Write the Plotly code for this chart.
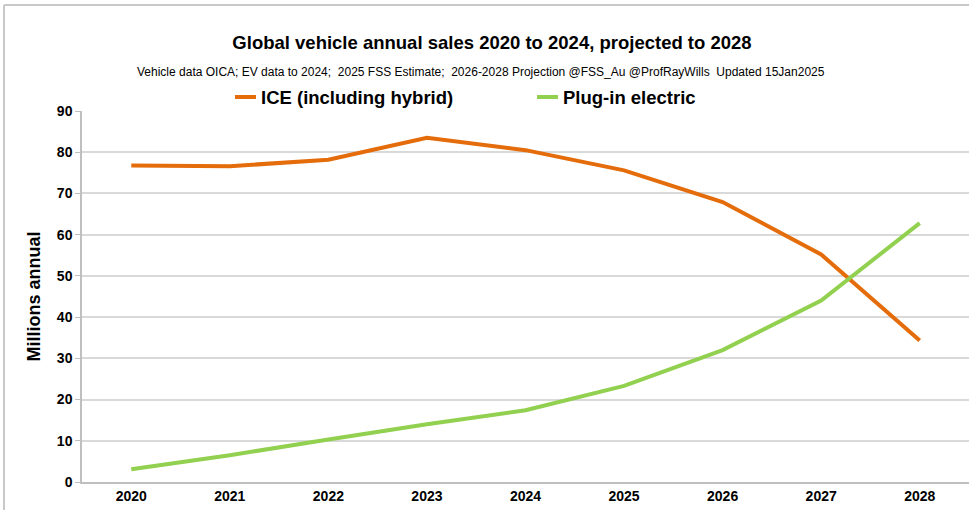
import plotly.graph_objects as go

years = ["2020", "2021", "2022", "2023", "2024", "2025", "2026", "2027", "2028"]
ice_sales = [76.8, 76.6, 78.2, 83.5, 80.5, 75.6, 67.9, 55.2, 34.3]
ev_sales = [3.1, 6.5, 10.3, 14.0, 17.4, 23.3, 32.0, 44.0, 62.8]
y_ticks = [0, 10, 20, 30, 40, 50, 60, 70, 80, 90]
series_names = ["ICE (including hybrid)", "Plug-in electric"]

FONT = "Liberation Sans, Arial, sans-serif"
ORANGE = "#E46C0A"
GREEN = "#92D050"
GRID = "#D9D9D9"
AXIS = "#BFBFBF"

# plot area in pixels
W, H = 969, 510
L, R, T, B = 82, 0, 111, 28
PW, PH = W - L - R, H - T - B


def px(x):
    return (x - L) / PW


def py(y):
    return (H - B - y) / PH


fig = go.Figure()
fig.add_trace(go.Scatter(x=years, y=ice_sales, mode="lines", name=series_names[0],
                         line=dict(color=ORANGE, width=4)))
fig.add_trace(go.Scatter(x=years, y=ev_sales, mode="lines", name=series_names[1],
                         line=dict(color=GREEN, width=4)))

fig.update_layout(
    width=W, height=H,
    margin=dict(l=L, r=R, t=T, b=B),
    paper_bgcolor="white", plot_bgcolor="white",
    font=dict(family=FONT, color="#000000"),
    title=dict(text="<b>Global vehicle annual sales 2020 to 2024, projected to 2028</b>",
               x=492 / W, xanchor="center", y=1 - 43 / H, yanchor="middle",
               font=dict(size=18.5, family=FONT)),
    showlegend=False,
)

fig.update_xaxes(
    type="category", range=[-0.5, 8.5],
    showgrid=False, showline=True, linecolor=AXIS, linewidth=1.5,
    ticks="", tickfont=dict(size=14, family=FONT, weight="bold"),
)
fig.update_yaxes(
    range=[0, 90], tickvals=y_ticks,
    showgrid=True, gridcolor=GRID, gridwidth=1.5,
    showline=True, linecolor=AXIS, linewidth=1.5,
    ticks="outside", ticklen=5, tickcolor=AXIS,
    tickfont=dict(size=14, family=FONT, weight="bold"),
    title=dict(text="<b>Millions annual</b>", font=dict(size=18, family=FONT), standoff=12),
    zeroline=False,
)

fig.add_annotation(
    text="Vehicle data OICA; EV data to 2024;  2025 FSS Estimate;  2026-2028 Projection @FSS_Au @ProfRayWills  Updated 15Jan2025",
    xref="paper", yref="paper", x=px(481), y=py(72), yanchor="middle",
    xanchor="center", showarrow=False, font=dict(size=12, family=FONT),
)

# Legend row: short line swatch followed by the series name
legend_items = [(series_names[0], ORANGE, 235), (series_names[1], GREEN, 537)]
for name, color, x0 in legend_items:
    fig.add_shape(type="line", xref="paper", yref="paper",
                  x0=px(x0), x1=px(x0 + 21), y0=py(97), y1=py(97),
                  line=dict(color=color, width=4))
    fig.add_annotation(text="<b>" + name + "</b>", xref="paper", yref="paper",
                       x=px(x0 + 24), y=py(97), xanchor="left", yanchor="middle",
                       showarrow=False, font=dict(size=18.5, family=FONT))

# Outer frame along the left and top edges
fig.add_shape(type="line", xref="paper", yref="paper",
              x0=px(4), x1=px(4), y0=py(H), y1=py(5),
              line=dict(color="#C8C8C8", width=2))
fig.add_shape(type="line", xref="paper", yref="paper",
              x0=px(4), x1=1, y0=py(5), y1=py(5),
              line=dict(color="#C8C8C8", width=2))

fig.write_html("out.html")
